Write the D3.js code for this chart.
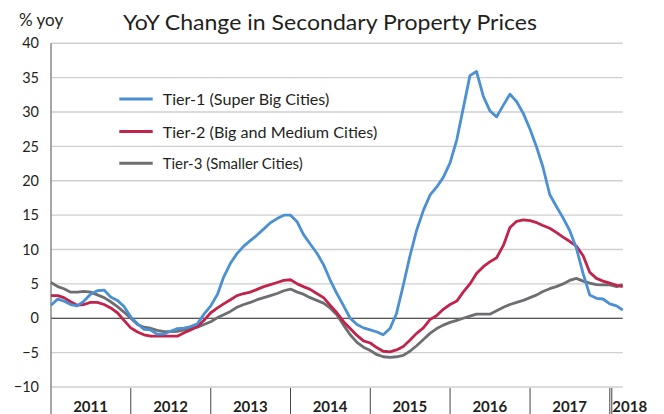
<!DOCTYPE html>
<html>
<head>
<meta charset="utf-8">
<script src="https://cdn.jsdelivr.net/npm/d3@7"></script>
<style>
  body { margin: 0; background: #fff; }
  svg text { font-family: Lato, "Open Sans", sans-serif; fill: #231f20; }
</style>
</head>
<body>
<div id="chart"></div>
<script>
// monthly, Jan 2011 .. Mar 2018
const tier1 = [1.9, 2.8, 2.5, 2.0, 1.8, 2.5, 3.5, 4.0, 4.1, 3.1, 2.6, 1.7,
  0.2, -0.8, -1.6, -1.7, -2.3, -2.3, -1.9, -1.5, -1.45, -1.2, -0.8, 0.6,
  1.8, 3.5, 6.0, 8.0, 9.4, 10.5, 11.3, 12.1, 13.0, 13.9, 14.5, 15.0,
  15.0, 14.0, 12.2, 10.8, 9.5, 7.8, 5.6, 3.6, 1.8, 0.0, -0.9, -1.4,
  -1.7, -2.0, -2.4, -1.5, 0.7, 4.8, 9.0, 12.8, 15.7, 17.9, 19.1, 20.5,
  22.6, 26.0, 30.5, 35.3, 35.9, 32.3, 30.2, 29.3, 31.0, 32.6, 31.5, 29.8,
  27.5, 24.8, 22.0, 18.0, 16.3, 14.6, 12.8, 10.2, 6.5, 3.4, 2.9, 2.8,
  2.1, 1.8, 1.2];
const tier2 = [3.3, 3.3, 3.0, 2.4, 1.9, 2.0, 2.3, 2.3, 2.0, 1.5, 0.8, -0.3,
  -1.4, -2.0, -2.4, -2.6, -2.6, -2.6, -2.6, -2.6, -2.1, -1.7, -1.2, -0.3,
  0.8, 1.5, 2.1, 2.7, 3.3, 3.6, 3.8, 4.2, 4.6, 4.9, 5.2, 5.5,
  5.6, 5.0, 4.6, 4.2, 3.6, 3.0, 1.9, 0.8, -0.5, -1.5, -2.5, -3.3,
  -3.6, -4.3, -4.8, -4.9, -4.6, -4.1, -3.2, -2.2, -1.4, -0.2, 0.4, 1.3,
  2.0, 2.5, 3.8, 5.0, 6.5, 7.5, 8.2, 8.8, 10.6, 13.2, 14.1, 14.3,
  14.2, 13.9, 13.5, 13.1, 12.5, 11.8, 11.2, 10.5, 9.1, 6.7, 5.8, 5.4,
  5.1, 4.8, 4.6];
const tier3 = [5.2, 4.6, 4.3, 3.8, 3.8, 3.9, 3.8, 3.4, 3.0, 2.4, 1.7, 0.9,
  0.0, -0.9, -1.3, -1.45, -1.75, -1.95, -1.95, -1.9, -1.7, -1.5, -1.3, -0.9,
  -0.5, 0.1, 0.5, 1.0, 1.6, 2.0, 2.3, 2.7, 3.0, 3.3, 3.6, 4.0,
  4.25, 3.8, 3.5, 3.0, 2.6, 2.2, 1.5, 0.5, -1.0, -2.4, -3.5, -4.2,
  -4.7, -5.3, -5.6, -5.7, -5.6, -5.4, -4.8, -4.0, -3.1, -2.2, -1.5, -1.0,
  -0.6, -0.3, 0.0, 0.3, 0.6, 0.6, 0.6, 1.1, 1.6, 2.0, 2.3, 2.6,
  3.0, 3.4, 3.9, 4.3, 4.6, 5.0, 5.5, 5.8, 5.4, 5.1, 4.9, 4.85,
  4.85, 4.6, 4.9];

const seriesNames = ["Tier-1 (Super Big Cities)", "Tier-2 (Big and Medium Cities)", "Tier-3 (Smaller Cities)"];
const seriesColors = ["#4a90d2", "#c1234b", "#6d6e71"];
const years = [2011, 2012, 2013, 2014, 2015, 2016, 2017, 2018];
const yTicks = [-10, -5, 0, 5, 10, 15, 20, 25, 30, 35, 40];

const width = 664, height = 414;
const plotL = 51, plotR = 622.7, plotT = 43.3, plotB = 387;

const months = d3.timeMonth.range(new Date(2011, 0, 1), new Date(2018, 3, 1));

const svg = d3.select("#chart")
  .append("svg")
  .attr("width", width)
  .attr("height", height);

const x = d3.scaleTime()
  .domain([new Date(2011, 0, 1), new Date(2018, 2, 1)])
  .range([plotL, plotR]);

const y = d3.scaleLinear()
  .domain([-10, 40])
  .range([plotB, plotT]);

// gridlines
svg.append("g")
  .selectAll("line")
  .data(yTicks)
  .enter()
  .append("line")
  .attr("x1", plotL)
  .attr("x2", plotR)
  .attr("y1", d => y(d))
  .attr("y2", d => y(d))
  .attr("stroke", d => d === 0 ? "#231f20" : "#cfcfcf")
  .attr("stroke-width", d => d === 0 ? 1.2 : 1.4);

// y axis labels
const yAxis = svg.append("g")
  .attr("transform", `translate(${plotL},0)`)
  .call(d3.axisLeft(y).tickValues(yTicks).tickSize(0).tickPadding(12));
yAxis.select(".domain").remove();
yAxis.selectAll("text")
  .style("font-size", "14.5px")
  .attr("fill", "#231f20");

// left axis line
svg.append("line")
  .attr("x1", plotL).attr("x2", plotL)
  .attr("y1", plotT).attr("y2", height)
  .attr("stroke", "#808080")
  .attr("stroke-width", 1.4);

// year separators
const sepYears = years.slice(1);
svg.append("g")
  .selectAll("line")
  .data(sepYears)
  .enter()
  .append("line")
  .attr("x1", d => x(new Date(d, 0, 1)))
  .attr("x2", d => x(new Date(d, 0, 1)))
  .attr("y1", 388)
  .attr("y2", height)
  .attr("stroke", "#444")
  .attr("stroke-width", 1);
// double line before 2018
svg.append("line")
  .attr("x1", x(new Date(2018, 0, 1)) + 2)
  .attr("x2", x(new Date(2018, 0, 1)) + 2)
  .attr("y1", 388)
  .attr("y2", height)
  .attr("stroke", "#444")
  .attr("stroke-width", 1);

// year labels
svg.append("g")
  .selectAll("text")
  .data(years)
  .enter()
  .append("text")
  .attr("x", d => d === 2018 ? x(new Date(2018, 0, 1)) + 2.5 : x(new Date(d, 6, 1)))
  .attr("y", 411.5)
  .attr("text-anchor", d => d === 2018 ? "start" : "middle")
  .style("font-size", "15px")
  .style("font-weight", "bold")
  .text(d => d);

// lines
const line = d3.line()
  .x((d, i) => x(months[i]))
  .y(d => y(d));

[tier3, tier2, tier1].forEach((s, k) => {
  svg.append("path")
    .datum(s)
    .attr("d", line)
    .attr("fill", "none")
    .attr("stroke", seriesColors[2 - k])
    .attr("stroke-width", 2.8)
    .attr("stroke-linejoin", "round");
});

// legend
const legendY = [99, 131.5, 163.3];
const legendW = [166.6, 214.6, 140];
const legend = svg.append("g");
seriesNames.forEach((name, i) => {
  legend.append("line")
    .attr("x1", 119.3).attr("x2", 152.7)
    .attr("y1", legendY[i]).attr("y2", legendY[i])
    .attr("stroke", seriesColors[i])
    .attr("stroke-width", 3);
  legend.append("text")
    .attr("x", 162.7)
    .attr("y", legendY[i] + 6)
    .attr("textLength", legendW[i])
    .attr("lengthAdjust", "spacingAndGlyphs")
    .style("font-size", "15.5px")
    .text(name);
});

// title and unit
svg.append("text")
  .attr("x", 123)
  .attr("y", 30)
  .attr("textLength", 414)
  .attr("lengthAdjust", "spacingAndGlyphs")
  .style("font-size", "21.5px")
  .text("YoY Change in Secondary Property Prices");

svg.append("text")
  .attr("x", 19)
  .attr("y", 26)
  .style("font-size", "17px")
  .text("% yoy");
</script>
</body>
</html>
